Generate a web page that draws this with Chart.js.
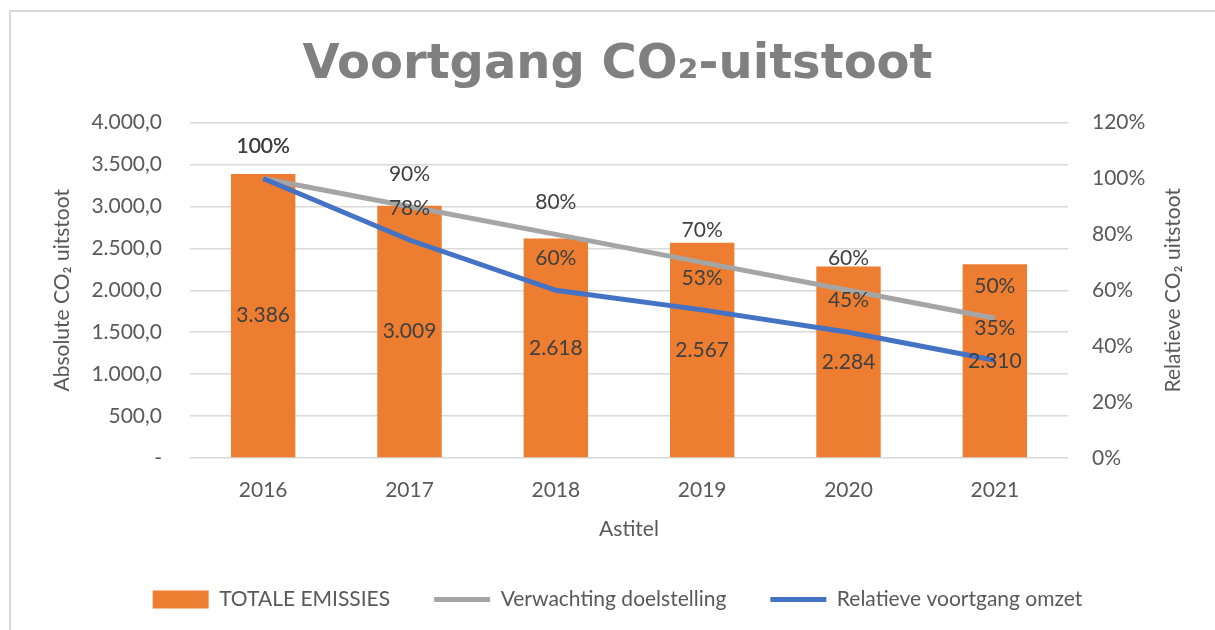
<!DOCTYPE html>
<html lang="nl">
<head>
    <meta charset="UTF-8">
    <title>Voortgang CO2-uitstoot</title>
    <script src="https://cdn.jsdelivr.net/npm/chart.js"></script>
    <style>
        body {
            margin: 0;
            background-color: #fff;
        }
        .frame {
            position: absolute;
            left: 9px;
            top: 10px;
            width: 1215px;
            height: 630px;
            border-left: 2px solid #d9d9d9;
            border-top: 2px solid #d9d9d9;
        }
        .wrap {
            position: absolute;
            left: 0;
            top: 0;
            width: 1215px;
            height: 630px;
        }
    </style>
</head>
<body>
    <div class="frame"></div>
    <div class="wrap"><canvas id="co2Chart"></canvas></div>

    <script>
        // Gegevens uit de grafiek
        const jaren = ['2016', '2017', '2018', '2019', '2020', '2021'];
        const totaleEmissies = [3386, 3009, 2618, 2567, 2284, 2310];
        const doelstelling = [100, 90, 80, 70, 60, 50];
        const relatieveVoortgang = [100, 78, 60, 53, 45, 35];

        const tekstKleur = '#595959';
        const labelKleur = '#404040';

        // Getal in Nederlandse notatie, bv. 4.000,0
        function formatNL(n, decimals) {
            const parts = n.toFixed(decimals).split('.');
            parts[0] = parts[0].replace(/\B(?=(\d{3})+(?!\d))/g, '.');
            return parts.join(',');
        }

        // Labels bij de balken en lijnen
        const dataLabels = {
            id: 'dataLabels',
            afterDatasetsDraw(chart) {
                const ctx = chart.ctx;
                ctx.save();
                ctx.font = '21px Lato';
                ctx.fillStyle = labelKleur;
                ctx.textAlign = 'center';
                ctx.textBaseline = 'middle';
                chart.data.datasets.forEach((ds, i) => {
                    const meta = chart.getDatasetMeta(i);
                    meta.data.forEach((el, j) => {
                        const v = ds.data[j];
                        if (ds.type === 'bar') {
                            ctx.fillText(formatNL(v, 0), el.x, (el.y + el.base) / 2);
                        } else {
                            ctx.fillText(v + '%', el.x, el.y - 32);
                        }
                    });
                });

                // titel van de rechter as, van onder naar boven
                const y1 = chart.scales.y1;
                ctx.font = '21px Lato';
                ctx.fillStyle = tekstKleur;
                ctx.translate(y1.right - 12, (y1.top + y1.bottom) / 2);
                ctx.rotate(-Math.PI / 2);
                ctx.fillText('Relatieve CO\u2082 uitstoot', 0, 0);
                ctx.restore();
            }
        };

        const ctx = document.getElementById('co2Chart').getContext('2d');
        new Chart(ctx, {
            data: {
                labels: jaren,
                datasets: [
                    {
                        type: 'bar',
                        label: 'TOTALE EMISSIES',
                        data: totaleEmissies,
                        backgroundColor: '#ED7D31',
                        yAxisID: 'y',
                        categoryPercentage: 1,
                        barPercentage: 0.44,
                        order: 3
                    },
                    {
                        type: 'line',
                        label: 'Verwachting doelstelling',
                        data: doelstelling,
                        borderColor: '#A5A5A5',
                        backgroundColor: '#A5A5A5',
                        borderWidth: 5,
                        pointRadius: 0,
                        yAxisID: 'y1',
                        order: 2
                    },
                    {
                        type: 'line',
                        label: 'Relatieve voortgang omzet',
                        data: relatieveVoortgang,
                        borderColor: '#4472C4',
                        backgroundColor: '#4472C4',
                        borderWidth: 5,
                        pointRadius: 0,
                        yAxisID: 'y1',
                        order: 1
                    }
                ]
            },
            options: {
                responsive: true,
                maintainAspectRatio: false,
                animation: false,
                layout: {
                    padding: { left: 50, right: 30, top: 0, bottom: 10 }
                },
                plugins: {
                    tooltip: { enabled: false },
                    title: {
                        display: true,
                        text: 'Voortgang CO\u2082-uitstoot',
                        color: '#808080',
                        font: { family: 'DejaVu Sans', size: 48, weight: 'bold', lineHeight: 1.2 },
                        padding: { top: 37, bottom: 28 }
                    },
                    legend: {
                        position: 'bottom',
                        labels: {
                            color: tekstKleur,
                            font: { family: 'Lato', size: 21 },
                            usePointStyle: true,
                            pointStyleWidth: 56,
                            boxHeight: 18,
                            padding: 44,
                            generateLabels(chart) {
                                return chart.data.datasets.map((ds, i) => ({
                                    text: ds.label,
                                    fillStyle: ds.backgroundColor,
                                    strokeStyle: ds.type === 'bar' ? ds.backgroundColor : ds.borderColor,
                                    lineWidth: ds.type === 'bar' ? 0 : 5,
                                    pointStyle: ds.type === 'bar' ? 'rect' : 'line',
                                    fontColor: tekstKleur,
                                    hidden: false,
                                    datasetIndex: i
                                }));
                            }
                        }
                    }
                },
                scales: {
                    x: {
                        grid: { display: false },
                        border: { display: false },
                        ticks: {
                            color: tekstKleur,
                            font: { family: 'Lato', size: 21 },
                            padding: 12
                        },
                        title: {
                            display: true,
                            text: 'Astitel',
                            color: tekstKleur,
                            font: { family: 'Lato', size: 21 },
                            padding: { top: 0, bottom: 3 }
                        },
                        afterFit(scale) { scale.height = 87; }
                    },
                    y: {
                        position: 'left',
                        min: 0,
                        max: 4000,
                        ticks: {
                            stepSize: 500,
                            color: tekstKleur,
                            font: { family: 'Lato', size: 21 },
                            padding: 28,
                            callback: (v) => v === 0 ? '-' : formatNL(v, 1)
                        },
                        grid: { color: '#d9d9d9', lineWidth: 1.5, drawTicks: false },
                        border: { display: false },
                        title: {
                            display: true,
                            text: 'Absolute CO\u2082 uitstoot',
                            color: tekstKleur,
                            font: { family: 'Lato', size: 21 },
                            padding: 0
                        },
                        afterFit(scale) { scale.width = 140; }
                    },
                    y1: {
                        position: 'right',
                        min: 0,
                        max: 120,
                        ticks: {
                            stepSize: 20,
                            color: tekstKleur,
                            font: { family: 'Lato', size: 21 },
                            padding: 24,
                            callback: (v) => v + '%'
                        },
                        grid: { drawOnChartArea: false, drawTicks: false },
                        border: { display: false },
                        afterFit(scale) { scale.width = 117; }
                    }
                }
            },
            plugins: [dataLabels]
        });
    </script>
</body>
</html>
